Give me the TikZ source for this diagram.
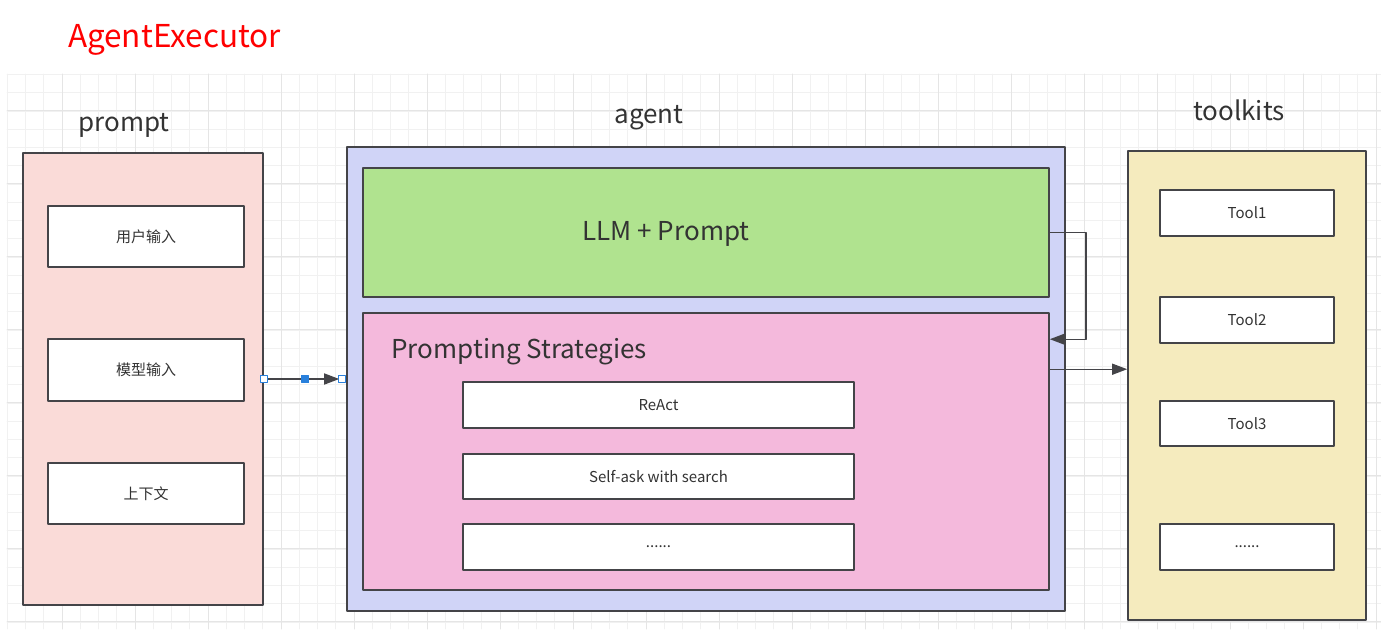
\documentclass[tikz,border=0pt]{standalone}
\usepackage{fontspec}
\setmainfont{Noto Sans CJK SC}
\usetikzlibrary{arrows.meta,positioning,calc}

\definecolor{grille}{RGB}{241,241,241}
\definecolor{grillefort}{RGB}{229,229,229}
\definecolor{trait}{RGB}{68,68,72}
\definecolor{texte}{RGB}{51,51,51}
\definecolor{fondprompt}{RGB}{250,219,216}
\definecolor{fondagent}{RGB}{208,212,247}
\definecolor{fondllm}{RGB}{176,227,143}
\definecolor{fondstrat}{RGB}{244,185,220}
\definecolor{fondtools}{RGB}{245,235,190}
\definecolor{poignee}{RGB}{41,128,220}

\begin{document}
\begin{tikzpicture}[line cap=round,line join=round,>={Triangle[length=15pt,width=11pt]},x=1pt,y=-1pt,
	boite/.style={draw=trait,line width=1.6pt,rectangle,inner sep=0pt},
	petit/.style={boite,fill=white,text=texte,font=\fontsize{15}{18}\selectfont},
	titre/.style={text=texte,font=\fontsize{26}{31}\selectfont},
	poign/.style={draw=poignee,line width=.8pt,fill=white,minimum size=7pt,inner sep=0pt}]
		\useasboundingbox (0,0) rectangle (1381,629);
		
		% Grille
		\foreach \i in {0,...,75} {\draw[grille,line width=.9pt] (7.3+18.25*\i,74) -- (7.3+18.25*\i,629);}
		\foreach \j in {0,...,30} {\draw[grille,line width=.9pt] (7,74.5+18.25*\j) -- (1381,74.5+18.25*\j);}
		\foreach \i in {0,...,18} {\draw[grillefort,line width=.9pt] (62+73*\i,74) -- (62+73*\i,629);}
		\foreach \j in {0,...,7} {\draw[grillefort,line width=.9pt] (7,110+73*\j) -- (1381,110+73*\j);}
		
		% Titre
		\node[text=red,font=\fontsize{31.5}{38}\selectfont] (executor) at (174.5,40) {AgentExecutor};
		
		% Bloc prompt
		\node[titre] (titreprompt) at (124,125) {prompt};
		\node[boite,fill=fondprompt,minimum width=240pt,minimum height=452pt] (prompt) at (143,379) {};
		\node[petit,minimum width=196pt,minimum height=61pt] (saisie) at (146,236.5) {用户输入};
		\node[petit,minimum width=196pt,minimum height=62pt] (modele) at (146,370) {模型输入};
		\node[petit,minimum width=196pt,minimum height=61pt] (contexte) at (146,493.5) {上下文};
		
		% Bloc agent
		\node[titre] (titreagent) at (649,118) {agent};
		\node[boite,fill=fondagent,minimum width=718pt,minimum height=464pt] (agent) at (706,379) {};
		\node[boite,fill=fondllm,minimum width=686pt,minimum height=129pt] (llm) at (706,232.5) {};
		\node[titre] (llmtexte) at (666,234) {LLM + Prompt};
		\node[boite,fill=fondstrat,minimum width=686pt,minimum height=277pt] (strat) at (706,451.5) {};
		\node[titre,anchor=west] (strattexte) at (388,352) {Prompting Strategies};
		\node[petit,minimum width=391pt,minimum height=46pt] (react) at (658.5,405) {ReAct};
		\node[petit,minimum width=391pt,minimum height=45pt] (selfask) at (658.5,476.5) {Self-ask with search};
		\node[petit,minimum width=391pt,minimum height=46pt] (autres) at (658.5,547) {......};
		
		% Bloc toolkits
		\node[titre] (titretools) at (1239,110) {toolkits};
		\node[boite,fill=fondtools,minimum width=238pt,minimum height=469pt] (toolkits) at (1247,385.5) {};
		\node[petit,minimum width=174pt,minimum height=46pt] (tool1) at (1247,213) {Tool1};
		\node[petit,minimum width=174pt,minimum height=46pt] (tool2) at (1247,320) {Tool2};
		\node[petit,minimum width=174pt,minimum height=45pt] (tool3) at (1247,423.5) {Tool3};
		\node[petit,minimum width=174pt,minimum height=46pt] (toolsuite) at (1247,547) {......};
		
		% Liaisons
		\coordinate (finfleche) at ([xshift=-7pt]agent.west);
		\draw[->,trait,line width=1.6pt] (prompt.east) -- (finfleche);
		\node[poign] (poigneea) at (prompt.east) {};
		\node[poign] (poigneeb) at ([xshift=-4pt]agent.west) {};
		\node[poign,fill=poignee] (poigneem) at ($(prompt.east)!.5!(agent.west)$) {};
		
		\coordinate (boucle) at ([yshift=-27pt]strat.north east);
		\draw[->,trait,line width=1.4pt] (llm.east) -- ++(36,0) |- (boucle);
		\coordinate (versoutils) at ([yshift=-57pt]strat.north east);
		\draw[->,trait,line width=1.4pt] (versoutils) -- (versoutils -| toolkits.west);
	\end{tikzpicture}
\end{document}
